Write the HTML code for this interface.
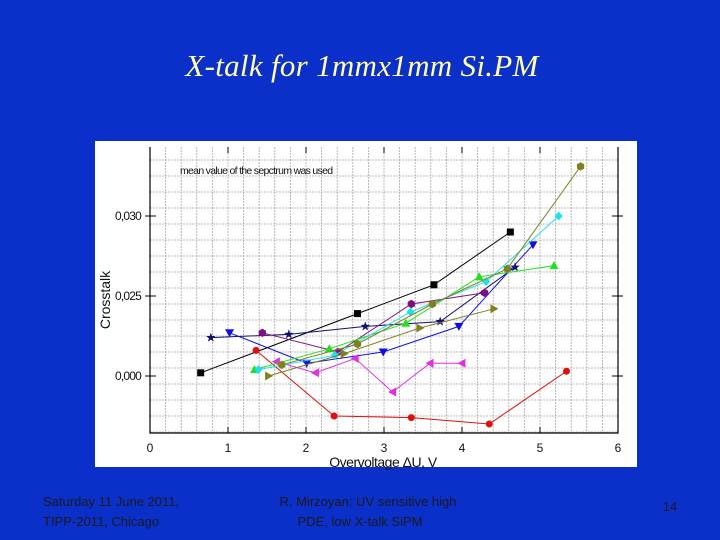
<!DOCTYPE html>
<html><head><meta charset="utf-8"><style>
html,body{margin:0;padding:0;background:#0b2fc9;}
svg{display:block}
</style></head><body>
<svg width="720" height="540" viewBox="0 0 720 540" xmlns="http://www.w3.org/2000/svg">
<rect x="0" y="0" width="720" height="540" fill="#0b2fc9"/>
<text x="362" y="76" text-anchor="middle" font-family="Liberation Serif, serif" font-style="italic" font-size="31" letter-spacing="0.3" fill="#ffffa8">X-talk for 1mmx1mm Si.PM</text>
<rect x="95" y="141" width="542" height="326" fill="#ffffff"/>
<g id="grid"></g>
<g id="axes"></g>
<g id="series"></g>
<text x="180" y="174" font-family="Liberation Sans, sans-serif" font-size="10.5" letter-spacing="-0.7" fill="#111">mean value of the sepctrum was used</text>
<text transform="translate(110,300) rotate(-90)" text-anchor="middle" font-family="Liberation Sans, sans-serif" font-size="14" fill="#111">Crosstalk</text>
<text x="383" y="467" text-anchor="middle" font-family="Liberation Sans, sans-serif" font-size="14" letter-spacing="-0.5" fill="#111">Overvoltage ΔU, V</text>
<text x="43" y="506" font-family="Liberation Sans, sans-serif" font-size="13" fill="#1a1a1a">Saturday 11 June 2011,</text>
<text x="43" y="526" font-family="Liberation Sans, sans-serif" font-size="13" fill="#1a1a1a">TIPP-2011, Chicago</text>
<text x="368" y="506" text-anchor="middle" font-family="Liberation Sans, sans-serif" font-size="13" fill="#1a1a1a">R. Mirzoyan: UV sensitive high</text>
<text x="360" y="526" text-anchor="middle" font-family="Liberation Sans, sans-serif" font-size="13" fill="#1a1a1a">PDE, low X-talk SiPM</text>
<text x="670" y="511" text-anchor="middle" font-family="Liberation Sans, sans-serif" font-size="13" fill="#1a1a1a">14</text>
</svg>
<script>
const xTicks=[0,1,2,3,4,5,6];
const yTicks=[0.020,0.025,0.030];
const yTickLabels=["0,000","0,025","0,030"];
const sBlackX=[0.65,2.66,3.64,4.62];
const sBlackY=[0.0202,0.0239,0.0257,0.0290];
const sRedX=[1.36,2.36,3.35,4.35,5.34];
const sRedY=[0.0216,0.0175,0.0174,0.0170,0.0203];
const sStarX=[0.78,1.78,2.76,3.72,4.68];
const sStarY=[0.0224,0.0226,0.0231,0.0234,0.0268];
const sBlueX=[1.02,2.01,2.99,3.96,4.91];
const sBlueY=[0.0227,0.0208,0.0215,0.0231,0.0282];
const sMagX=[1.62,2.12,2.63,3.11,3.59,4.00];
const sMagY=[0.0209,0.0202,0.0211,0.0190,0.0208,0.0208];
const sPurX=[1.44,2.41,3.35,4.29];
const sPurY=[0.0227,0.0215,0.0245,0.0252];
const sGreenX=[1.34,2.30,3.28,4.22,5.18];
const sGreenY=[0.0204,0.0217,0.0233,0.0262,0.0269];
const sCyanX=[1.39,2.37,3.34,4.31,5.24];
const sCyanY=[0.0204,0.0213,0.0240,0.0259,0.0300];
const sOliveX=[1.69,2.66,3.62,4.58,5.52];
const sOliveY=[0.0207,0.0220,0.0245,0.0267,0.0331];
const sTriX=[1.52,2.49,3.46,4.41];
const sTriY=[0.0200,0.0214,0.0230,0.0242];

const NS="http://www.w3.org/2000/svg";
const X=v=>150+v*78;
const Y=v=>376-(v-0.020)*16000;
const L=150,R=618,T=147,B=433;
function mk(tag,attrs,parent){const e=document.createElementNS(NS,tag);for(const k in attrs)e.setAttribute(k,attrs[k]);parent.appendChild(e);return e;}
const grid=document.getElementById('grid'),axes=document.getElementById('axes'),ser=document.getElementById('series');
for(let v=0.2;v<6;v+=0.2){const g=mk('line',{x1:X(v),x2:X(v),y1:T,y2:B,stroke:'#a8a8a8','stroke-dasharray':'2,1','stroke-width':0.8},grid);

}
for(let v=0.0165;v<0.0343;v+=0.001){const g=mk('line',{x1:L,x2:R,y1:Y(v),y2:Y(v),stroke:'#a8a8a8','stroke-dasharray':'2,1','stroke-width':0.8},grid);

}
const f=mk('path',{d:`M${L},${T}V${B}H${R}V${T}`,fill:'none',stroke:'#000','stroke-width':1.2},axes);


xTicks.forEach(v=>{const t=mk('text',{x:X(v),y:452,'text-anchor':'middle','font-family':'Liberation Sans, sans-serif','font-size':12,fill:'#111'},axes);t.textContent=v;


mk('line',{x1:X(v),x2:X(v),y1:B,y2:B-6,stroke:'#000'},axes);mk('line',{x1:X(v),x2:X(v),y1:T,y2:T+6,stroke:'#000'},axes);});
yTicks.forEach((v,i)=>{const t=mk('text',{x:141,y:Y(v)+4,'text-anchor':'end','font-family':'Liberation Sans, sans-serif','font-size':12,'letter-spacing':-0.8,fill:'#111'},axes);t.textContent=yTickLabels[i];


mk('line',{x1:L-5,x2:L+6,y1:Y(v),y2:Y(v),stroke:'#000'},axes);mk('line',{x1:R-6,x2:R+5,y1:Y(v),y2:Y(v),stroke:'#000'},axes);});
function marker(type,x,y,c,g){
 if(type==='sq')return mk('rect',{x:x-3.5,y:y-3.5,width:7,height:7,fill:c},g);
 if(type==='ci')return mk('circle',{cx:x,cy:y,r:3.5,fill:c},g);
 if(type==='up')return mk('polygon',{points:`${x},${y-4.5} ${x-4.5},${y+3.5} ${x+4.5},${y+3.5}`,fill:c},g);
 if(type==='dn')return mk('polygon',{points:`${x},${y+4.5} ${x-4.5},${y-3.5} ${x+4.5},${y-3.5}`,fill:c},g);
 if(type==='lt')return mk('polygon',{points:`${x-4.5},${y} ${x+3.5},${y-4.5} ${x+3.5},${y+4.5}`,fill:c},g);
 if(type==='rt')return mk('polygon',{points:`${x+4.5},${y} ${x-3.5},${y-4.5} ${x-3.5},${y+4.5}`,fill:c},g);
 if(type==='hx'){let p=[];for(let k=0;k<6;k++){const a=Math.PI/3*k+Math.PI/6;p.push((x+4.2*Math.cos(a))+','+(y+4.2*Math.sin(a)));}return mk('polygon',{points:p.join(' '),fill:c},g);}
 if(type==='di')return mk('polygon',{points:`${x},${y-4.5} ${x+4},${y} ${x},${y+4.5} ${x-4},${y}`,fill:c},g);
 if(type==='st'){let p=[];for(let k=0;k<10;k++){const r=k%2?2:5,a=-Math.PI/2+Math.PI/5*k;p.push((x+r*Math.cos(a))+','+(y+r*Math.sin(a)));}return mk('polygon',{points:p.join(' '),fill:c},g);}
}
const seriesList=[
 ['series-black-squares',sBlackX,sBlackY,'#000000','sq'],
 ['series-red-circles',sRedX,sRedY,'#e01010','ci'],
 ['series-navy-stars',sStarX,sStarY,'#101070','st'],
 ['series-blue-down-triangles',sBlueX,sBlueY,'#1010e0','dn'],
 ['series-magenta-left-triangles',sMagX,sMagY,'#e030e0','lt'],
 ['series-purple-hexagons',sPurX,sPurY,'#801080','hx'],
 ['series-green-triangles',sGreenX,sGreenY,'#20e020','up'],
 ['series-cyan-diamonds',sCyanX,sCyanY,'#20e0f0','di'],
 ['series-olive-circles',sOliveX,sOliveY,'#808020','hx'],
 ['series-olive-right-triangles',sTriX,sTriY,'#808020','rt']
];
seriesList.forEach(([name,xs,ys,c,m])=>{
 const g=mk('g',{},ser);
 
 
 const pl=mk('polyline',{points:xs.map((v,i)=>X(v)+','+Y(ys[i])).join(' '),fill:'none',stroke:c,'stroke-width':1},g);
 
 
 xs.forEach((v,i)=>{const p=marker(m,X(v),Y(ys[i]),c,g);
 
 });
});
</script>
</body></html>
